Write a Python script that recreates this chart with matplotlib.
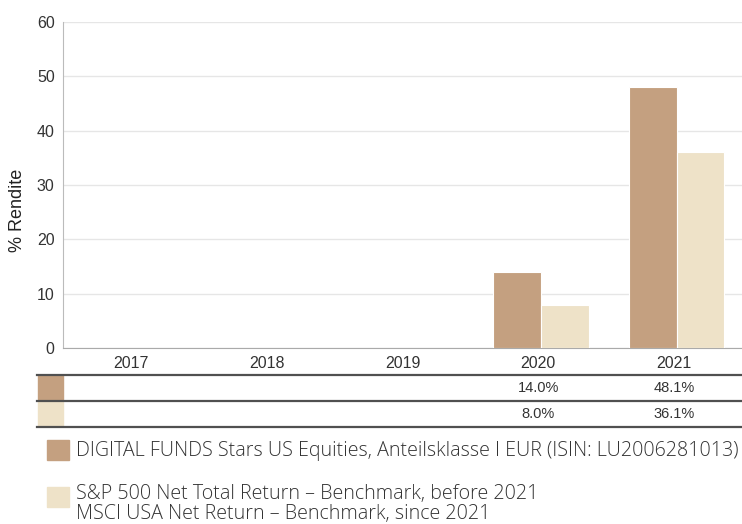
import matplotlib.pyplot as plt
from matplotlib.patches import Rectangle
from matplotlib.transforms import blended_transform_factory

# data
years = ['2017', '2018', '2019', '2020', '2021']
fund = [None, None, None, 14.0, 48.1]
bench = [None, None, None, 8.0, 36.1]
fund_label = 'DIGITAL FUNDS Stars US Equities, Anteilsklasse I EUR (ISIN: LU2006281013)'
bench_lines = ['S&P 500 Net Total Return – Benchmark, before 2021',
               'MSCI USA Net Return – Benchmark, since 2021']
y_ticks = [0, 10, 20, 30, 40, 50, 60]

c_fund = '#C4A080'
c_bench = '#EEE2C8'
c_text = '#333333'

W, H = 742, 524
fig = plt.figure(figsize=(W / 100, H / 100), dpi=100)


def fx(px):
    return px / W


def fy(py):
    return (H - py) / H


ax = fig.add_axes([fx(63), fy(348), fx(742 - 63), (348 - 22) / H])

x = list(range(len(years)))
bw = 0.35
for i, (f, b) in enumerate(zip(fund, bench)):
    if f is not None:
        ax.bar(i - bw / 2 + 0.02, f, width=bw, color=c_fund, edgecolor='white', linewidth=0.8, zorder=3)
    if b is not None:
        ax.bar(i + bw / 2 + 0.02, b, width=bw, color=c_bench, edgecolor='white', linewidth=0.8, zorder=3)

ax.set_xlim(-0.5, 4.5)
ax.set_ylim(0, 60)
ax.set_yticks(y_ticks)
ax.set_xticks(x)
ax.set_xticklabels(years)
ax.tick_params(length=0, labelsize=11.5, labelcolor=c_text)
ax.tick_params(axis='y', pad=6)
ax.tick_params(axis='x', pad=6)
for lab in ax.get_xticklabels() + ax.get_yticklabels():
    lab.set_family('Liberation Sans')
ax.grid(axis='y', color='#E6E6E6', linewidth=1, zorder=0)
for s in ['top', 'right']:
    ax.spines[s].set_visible(False)
ax.spines['left'].set_color('#BBBBBB')
ax.spines['bottom'].set_color('#AAAAAA')
fig.text(fx(18), fy(210), '% Rendite', rotation=90, ha='center', va='center',
         fontsize=13, family='Liberation Sans', color='#222222')

# table below the chart
for py in [374.5, 400.5, 427]:
    fig.add_artist(plt.Line2D([fx(37), fx(742)], [fy(py), fy(py)], color='#505050', linewidth=1.6))
fig.add_artist(Rectangle((fx(38), fy(400)), fx(25), 25 / H, color=c_fund, transform=fig.transFigure))
fig.add_artist(Rectangle((fx(38), fy(426)), fx(25), 25 / H, color=c_bench, transform=fig.transFigure))

tr = blended_transform_factory(ax.transData, fig.transFigure)
for i, (f, b) in enumerate(zip(fund, bench)):
    if f is not None:
        fig.text(i, fy(388.5), f'{f:.1f}%', transform=tr, ha='center', va='center',
                 fontsize=10.5, family='Liberation Sans', color=c_text)
    if b is not None:
        fig.text(i, fy(414.5), f'{b:.1f}%', transform=tr, ha='center', va='center',
                 fontsize=10.5, family='Liberation Sans', color=c_text)

# legend
fig.add_artist(Rectangle((fx(47), fy(460)), fx(22), 20 / H, color=c_fund, transform=fig.transFigure))
fig.text(fx(76), fy(456), fund_label, ha='left', va='baseline', fontsize=14.1,
         family='Open Sans', fontweight='light', color=c_text)
fig.add_artist(Rectangle((fx(47), fy(507)), fx(22), 20 / H, color=c_bench, transform=fig.transFigure))
fig.text(fx(76), fy(523.5), '\n'.join(bench_lines), ha='left', va='bottom', fontsize=14.1,
         family='Open Sans', fontweight='light', color=c_text, linespacing=0.95)

fig.savefig('out.png', dpi=100)
